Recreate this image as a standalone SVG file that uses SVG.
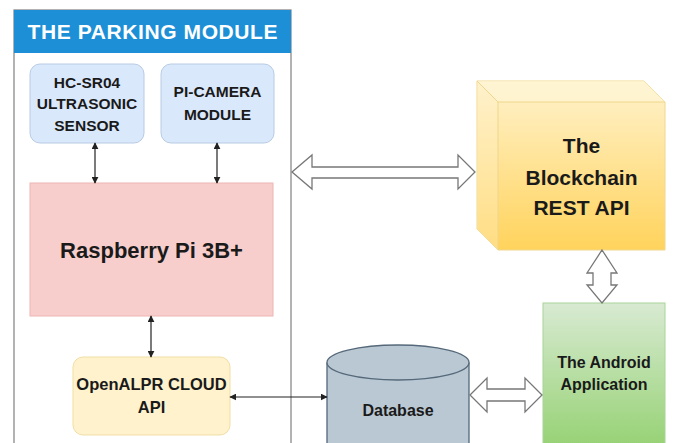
<svg xmlns="http://www.w3.org/2000/svg" width="673" height="443" viewBox="0 0 673 443">
<style>
text{font-family:"Liberation Sans",Arial,sans-serif;font-weight:bold;fill:#1a1a1a;text-anchor:middle}
.thin{stroke:#222;stroke-width:1.2;fill:none;marker-start:url(#ah);marker-end:url(#ah)}
.fat{fill:#fff;stroke:#777;stroke-width:1.3;stroke-linejoin:miter}
</style>
<defs>
<marker id="ah" viewBox="0 0 10 10" refX="9" refY="5" markerWidth="7" markerHeight="7" markerUnits="userSpaceOnUse" orient="auto-start-reverse">
<path d="M0,0 L10,5 L0,10 Z" fill="#222"/>
</marker>
<linearGradient id="gy" x1="0" y1="0" x2="0" y2="1">
<stop offset="0" stop-color="#fff2cc"/><stop offset="1" stop-color="#ffd35c"/>
</linearGradient>
<linearGradient id="gg" x1="0" y1="0" x2="0" y2="1">
<stop offset="0" stop-color="#d8ead2"/><stop offset="1" stop-color="#8fcf6a"/>
</linearGradient>
</defs>
<rect width="673" height="443" fill="#fff"/>

<g id="parking-module">
<rect x="14" y="10" width="277" height="450" fill="#fff" stroke="#8a8a8a" stroke-width="1.3"/>
<rect x="14" y="10" width="277" height="43" fill="#1d8fd6"/>
<text x="152.5" y="39" style="fill:#fff;font-size:21px" textLength="250">THE PARKING MODULE</text>
</g>

<g id="hc-sr04">
<rect x="30" y="64" width="114" height="79" rx="10" fill="#dae8fc" stroke="#b8cbe4"/>
<text x="87" y="88" font-size="15.5">HC-SR04</text>
<text x="87" y="109" font-size="15.5">ULTRASONIC</text>
<text x="87" y="131" font-size="15.5">SENSOR</text>
</g>

<g id="pi-camera">
<rect x="161" y="64" width="113" height="79" rx="10" fill="#dae8fc" stroke="#b8cbe4"/>
<text x="217.5" y="97" font-size="15.5">PI-CAMERA</text>
<text x="217.5" y="120" font-size="15.5">MODULE</text>
</g>

<g id="raspberry-pi">
<rect x="30" y="183" width="243" height="133" fill="#f8cecc" stroke="#eeb6b4"/>
<text x="151.5" y="258" font-size="22">Raspberry Pi 3B+</text>
</g>

<g id="openalpr">
<rect x="73" y="357" width="157" height="78" rx="10" fill="#fff2cc" stroke="#f1dfa6"/>
<text x="151.5" y="390" font-size="16.5">OpenALPR CLOUD</text>
<text x="151.5" y="413" font-size="16.5">API</text>
</g>

<g id="blockchain">
<polygon points="477,81 644,81 665,102 665,250 498,250 477,229" fill="url(#gy)" stroke="#f0d890" stroke-width="1"/>
<polygon points="477,81 644,81 665,102 498,102" fill="#fff6d8" opacity="0.6"/>
<polygon points="477,81 498,102 498,250 477,229" fill="#fff2cc" opacity="0.35"/>
<path d="M477,81 L498,102 L665,102 M498,102 L498,250" fill="none" stroke="#efd68c" stroke-width="1"/>
<text x="581.5" y="153" font-size="21">The</text>
<text x="581.5" y="185" font-size="21">Blockchain</text>
<text x="581.5" y="215" font-size="21">REST API</text>
</g>

<g id="database">
<path d="M327,362.5 L327,460 L469,460 L469,362.5" fill="#bac8d3" stroke="#55697a" stroke-width="1.3"/>
<ellipse cx="398" cy="362.5" rx="71" ry="17.5" fill="#bac8d3" stroke="#55697a" stroke-width="1.3"/>
<text x="398" y="416" font-size="16">Database</text>
</g>

<g id="android">
<rect x="543" y="303" width="122" height="160" fill="url(#gg)" stroke="#a9d49a" stroke-width="1"/>
<text x="604" y="368" font-size="16">The Android</text>
<text x="604" y="390" font-size="16">Application</text>
</g>

<g id="connectors">
<line class="thin" x1="95" y1="143" x2="95" y2="183"/>
<line class="thin" x1="217" y1="143" x2="217" y2="183"/>
<line class="thin" x1="151" y1="316" x2="151" y2="357"/>
<line class="thin" x1="230" y1="397" x2="327" y2="397"/>
<polygon class="fat" points="292,172 312,155 312,167 458,167 458,155 475,172 458,189 458,178 312,178 312,189"/>
<polygon class="fat" points="602,250 617,273 611,273 611,285 617,285 602,303 587,285 593,285 593,273 587,273"/>
<polygon class="fat" points="470,395 487,378 487,389 525,389 525,378 542,395 525,412 525,401 487,401 487,412"/>
</g>
</svg>
